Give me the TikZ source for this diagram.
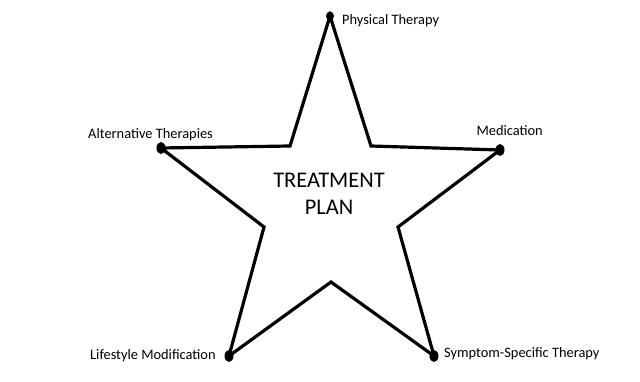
\documentclass[tikz,border=0pt]{standalone}
\usepackage{fontspec}
\setmainfont{Carlito}
\usetikzlibrary{shapes.geometric}
\begin{document}
\begin{tikzpicture}[x=1pt,y=-1pt,
  tip/.style={ellipse,fill=black,inner sep=0pt,minimum width=9pt,minimum height=12pt},
  lbl/.style={inner sep=0pt,font=\fontsize{14.4}{16}\selectfont},
  edge/.style={line width=3.2pt,line join=miter}]
\useasboundingbox (0,0) rectangle (640,382);
\fill[white] (0,0) rectangle (640,382);
% inner vertices
\coordinate (i1) at (290,146);
\coordinate (i2) at (371,146);
\coordinate (i3) at (398,227);
\coordinate (i4) at (331,282);
\coordinate (i5) at (264,227);
% outer tips
\node[tip,minimum width=8pt,minimum height=9pt] (top) at (330,16) {};
\node[tip] (right) at (500,150) {};
\node[tip] (br) at (434,356) {};
\node[tip] (bl) at (229,356) {};
\node[tip] (left) at (161,148) {};
\draw[edge] (top.center) -- (i2) -- (right.center) -- (i3) -- (br.center) -- (i4) -- (bl.center) -- (i5) -- (left.center) -- (i1) -- cycle;
% labels
\node[lbl,anchor=mid west] (lt) at (342,22) {Physical Therapy};
\node[lbl,anchor=mid west] (ll) at (88,136) {Alternative Therapies};
\node[lbl,anchor=mid east] (lr) at (543,133) {Medication};
\node[lbl,anchor=mid west] (lbl1) at (90,357) {Lifestyle Modification};
\node[lbl,anchor=mid west] (lbr) at (444,355) {Symptom-Specific Therapy};
\node[inner sep=0pt,align=center,font=\fontsize{22.4}{26.6}\selectfont] (title) at (329,194) {TREATMENT\\PLAN};
\end{tikzpicture}
\end{document}
